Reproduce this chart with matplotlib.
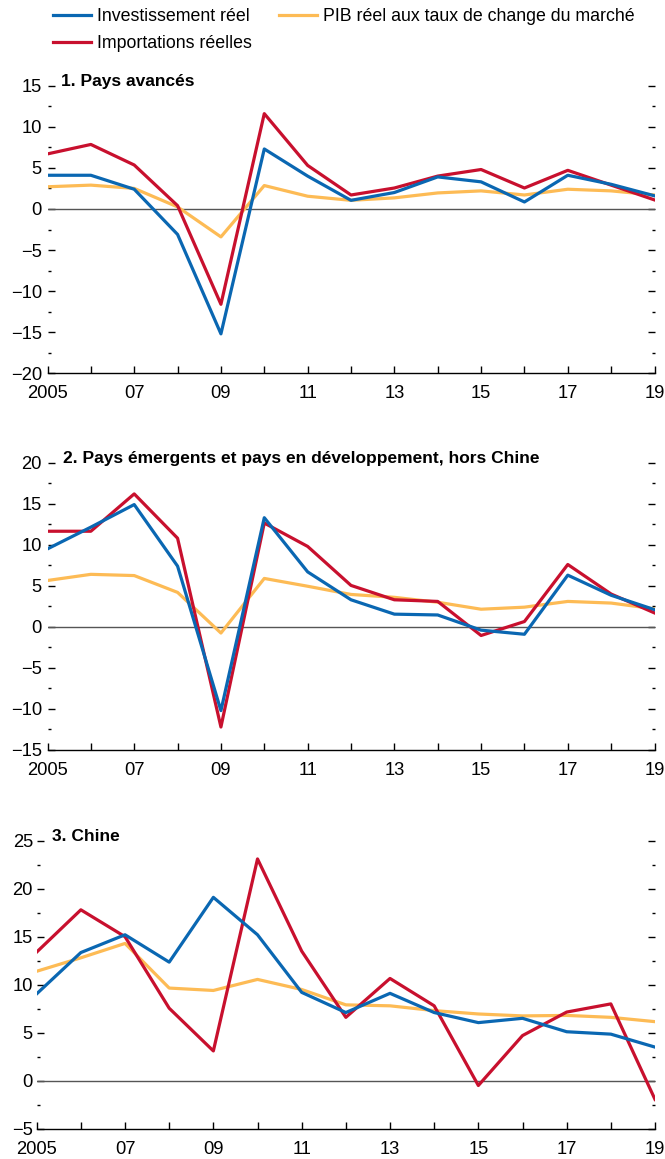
import numpy as np
import matplotlib
matplotlib.use("Agg")
import matplotlib.pyplot as plt
from matplotlib.ticker import MultipleLocator

plt.rcParams['font.family'] = ['Liberation Sans', 'DejaVu Sans']

# data (annual growth, percent)
years = [2005, 2006, 2007, 2008, 2009, 2010, 2011, 2012, 2013, 2014, 2015, 2016, 2017, 2018, 2019]
year_labels = ['2005', '', '07', '', '09', '', '11', '', '13', '', '15', '', '17', '', '19']

# 1. Pays avancés
adv_invest = [4.1, 4.1, 2.4, -3.1, -15.2, 7.3, 4.0, 1.05, 2.0, 3.9, 3.3, 0.85, 4.1, 3.0, 1.6]
adv_gdp = [2.7, 2.9, 2.5, 0.25, -3.4, 2.85, 1.55, 1.05, 1.35, 1.95, 2.2, 1.7, 2.4, 2.2, 1.7]
adv_import = [6.7, 7.85, 5.35, 0.4, -11.6, 11.6, 5.3, 1.7, 2.55, 4.0, 4.8, 2.55, 4.7, 2.9, 1.1]

# 2. Pays émergents et pays en développement, hors Chine
eme_invest = [9.5, 12.15, 14.9, 7.4, -10.2, 13.3, 6.7, 3.3, 1.55, 1.45, -0.4, -0.9, 6.3, 3.85, 2.1]
eme_gdp = [5.65, 6.4, 6.25, 4.2, -0.75, 5.9, 4.95, 3.95, 3.6, 3.0, 2.15, 2.4, 3.1, 2.9, 2.2]
eme_import = [11.65, 11.65, 16.2, 10.8, -12.2, 12.65, 9.8, 5.05, 3.3, 3.1, -1.05, 0.65, 7.6, 4.0, 1.7]

# 3. Chine
chn_invest = [9.05, 13.35, 15.2, 12.35, 19.1, 15.2, 9.2, 7.1, 9.1, 7.1, 6.05, 6.5, 5.1, 4.85, 3.5]
chn_gdp = [11.4, 12.8, 14.3, 9.65, 9.4, 10.55, 9.5, 7.9, 7.8, 7.3, 6.95, 6.75, 6.8, 6.6, 6.15]
chn_import = [13.4, 17.8, 15.0, 7.55, 3.1, 23.1, 13.5, 6.6, 10.65, 7.8, -0.5, 4.7, 7.15, 8.0, -1.95]

BLUE = '#0a67b2'
RED = '#c8102e'
ORANGE = '#fdbb55'
LW = 2.3

W, H = 665, 1159
fig = plt.figure(figsize=(W / 100, H / 100), dpi=100)


def px_axes(x0, x1, ytop, ybot):
    return fig.add_axes([x0 / W, 1 - ybot / H, (x1 - x0) / W, (ybot - ytop) / H])


def draw_panel(ax, invest, gdp, imports, ylim, ypad):
    l_gdp, = ax.plot(years, gdp, color=ORANGE, lw=LW, zorder=3)
    l_imp, = ax.plot(years, imports, color=RED, lw=LW, zorder=4)
    l_inv, = ax.plot(years, invest, color=BLUE, lw=LW, zorder=5)
    ax.axhline(0, color='#555555', lw=1.0, zorder=2)
    ax.set_xlim(years[0], years[-1])
    ax.set_ylim(*ylim)
    for s in ['top', 'left', 'right']:
        ax.spines[s].set_visible(False)
    ax.spines['bottom'].set_linewidth(1.0)
    ax.set_xticks(years)
    ax.set_xticklabels(year_labels)
    ax.tick_params(axis='x', direction='in', length=5, width=1.0, pad=8.5, labelsize=13.2)
    ax.yaxis.set_major_locator(MultipleLocator(5))
    ax.yaxis.set_minor_locator(MultipleLocator(2.5))
    ax.tick_params(axis='y', which='both', direction='in', left=True, right=True,
                   width=1.0, pad=ypad, labelsize=13.2)
    ax.tick_params(axis='y', which='major', length=4.8)
    ax.tick_params(axis='y', which='minor', length=2.1)
    return l_inv, l_gdp, l_imp


ax1 = px_axes(47.5, 654.5, 85.7, 373.3)
handles = draw_panel(ax1, adv_invest, adv_gdp, adv_import, (-20, 15), 4.0)
ax2 = px_axes(47.5, 654.5, 462.7, 750.0)
draw_panel(ax2, eme_invest, eme_gdp, eme_import, (-15, 20), 4.0)
ax3 = px_axes(36.7, 655.0, 840.7, 1128.7)
draw_panel(ax3, chn_invest, chn_gdp, chn_import, (-5, 25), 2.7)

titles = [(60.7, 86.0, '1. Pays avancés'),
          (63.3, 463.3, '2. Pays émergents et pays en développement, hors Chine'),
          (52.3, 840.7, '3. Chine')]
for x, y, t in titles:
    fig.text(x / W, 1 - y / H, t, fontsize=12.5, fontweight='bold', va='baseline', ha='left')

l_inv, l_gdp, l_imp = handles
fig.legend([l_inv, l_imp, l_gdp],
           ['Investissement réel', 'Importations réelles', 'PIB réel aux taux de change du marché'],
           loc='upper left', bbox_to_anchor=(53 / W, 1 - 8 / H), ncol=2, frameon=False,
           fontsize=12.8, handlelength=2.15, handletextpad=0.35, columnspacing=1.5,
           labelspacing=0.55, borderpad=0, borderaxespad=0)

fig.savefig('out.png', dpi=100)
